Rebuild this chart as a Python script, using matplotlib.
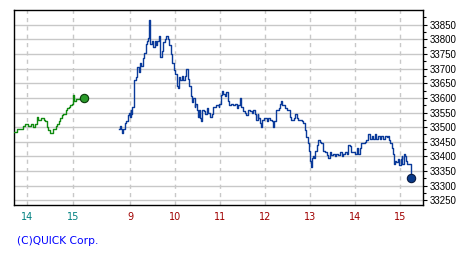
import numpy as np
import matplotlib
matplotlib.use('Agg')
import matplotlib.pyplot as plt
from matplotlib.ticker import MultipleLocator

# previous day session, minutes after 14:00
prev_min = [-17, -13, -8, -5, -2, 2, 5, 8, 11, 13, 15, 18, 22, 24, 26, 28, 30, 32,
            34, 37, 39, 41, 43, 45, 47, 50, 52, 54, 56, 58, 60, 61, 63, 66, 69, 73]
prev_val = [33485, 33495, 33495, 33505, 33510, 33505, 33510, 33500, 33510, 33535,
            33525, 33530, 33525, 33520, 33500, 33490, 33480, 33480, 33495, 33505,
            33510, 33520, 33530, 33540, 33545, 33560, 33565, 33570, 33575, 33580,
            33610, 33590, 33595, 33595, 33600, 33600]

# today's session, minutes after 9:00
today_min = [-14, -13, -12, -11, -9, -7, -5, -3, -1, 0, 1, 2, 3, 5, 6, 8, 10, 12, 14,
             15, 17, 19, 21, 23, 24, 25, 26, 27, 29, 31, 33, 34, 36, 38, 40, 42, 44,
             46, 48, 50, 52, 54, 56, 58, 60, 62, 64, 65, 67, 69, 71, 73, 74, 77, 79,
             81, 83, 84, 86, 87, 89, 91, 92, 93, 95, 96, 98, 100, 102, 104, 107, 109,
             111, 113, 115, 118, 119, 121, 122, 124, 126, 128, 130, 132, 134, 137,
             140, 142, 144, 146, 148, 150, 153, 155, 157, 160, 162, 164, 166, 168,
             170, 171, 173, 174, 176, 178, 180, 182, 184, 186, 189, 191, 192, 194,
             195, 198, 200, 201, 203, 206, 209, 211, 213, 215, 218, 220, 222, 224,
             226, 229, 231, 233, 235, 237, 239, 240, 241, 242, 244, 245, 246, 249,
             251, 253, 255, 257, 260, 262, 264, 266, 268, 271, 273, 275, 277, 280,
             282, 284, 286, 289, 291, 293, 295, 297, 300, 302, 304, 306, 308, 311,
             313, 315, 317, 320, 322, 324, 326, 328, 331, 333, 335, 337, 340, 342,
             344, 345, 347, 349, 350, 351, 352, 353, 355, 357, 359, 361, 362, 363,
             365, 366, 368, 369, 372, 375]
today_val = [33495, 33505, 33495, 33480, 33495, 33515, 33520, 33540, 33550, 33535,
             33560, 33545, 33570, 33595, 33660, 33670, 33705, 33690, 33720, 33710,
             33735, 33755, 33785, 33795, 33805, 33865, 33800, 33785, 33795, 33775,
             33795, 33780, 33795, 33810, 33740, 33760, 33790, 33800, 33810, 33800,
             33780, 33750, 33720, 33695, 33680, 33640, 33635, 33670, 33660, 33675,
             33660, 33675, 33700, 33665, 33640, 33605, 33585, 33600, 33570, 33580,
             33560, 33535, 33560, 33530, 33520, 33560, 33555, 33545, 33565, 33550,
             33535, 33545, 33570, 33570, 33575, 33570, 33580, 33610, 33625, 33615,
             33605, 33620, 33590, 33575, 33580, 33575, 33580, 33565, 33575, 33600,
             33570, 33555, 33550, 33540, 33560, 33555, 33550, 33560, 33545, 33525,
             33545, 33530, 33515, 33500, 33525, 33530, 33530, 33520, 33530, 33525,
             33520, 33500, 33520, 33530, 33560, 33565, 33580, 33590, 33575, 33565,
             33560, 33560, 33535, 33525, 33530, 33545, 33530, 33525, 33525, 33520,
             33515, 33490, 33465, 33445, 33420, 33385, 33365, 33395, 33400, 33395,
             33420, 33440, 33455, 33450, 33445, 33420, 33415, 33405, 33395, 33415,
             33405, 33410, 33400, 33410, 33405, 33415, 33400, 33410, 33415, 33410,
             33440, 33435, 33415, 33415, 33410, 33428, 33410, 33428, 33445, 33445,
             33450, 33455, 33475, 33460, 33470, 33460, 33475, 33460, 33470, 33460,
             33470, 33460, 33470, 33465, 33470, 33455, 33445, 33430, 33420, 33410,
             33375, 33385, 33380, 33390, 33370, 33390, 33400, 33375, 33410, 33400,
             33385, 33375, 33375, 33325]

prev_ticks = [14, 15]
today_ticks = [9, 10, 11, 12, 13, 14, 15]
y_ticks = list(range(33250, 33851, 50))

# previous day is squeezed into the space left of today's 9:00
PREV_START = 6.707
PREV_SCALE = 1.0366


def prev_pos(hours):
    return PREV_START + (np.asarray(hours, dtype=float) - 14) * PREV_SCALE


def main():
    fig = plt.figure(figsize=(4.75, 2.6), dpi=100)
    ax = fig.add_axes([0.0295, 0.2115, 0.8615, 0.7485])

    px = prev_pos(14 + np.array(prev_min) / 60.0)
    tx = 9 + np.array(today_min) / 60.0

    ax.plot(px, prev_val, color='#108a10', lw=1.0, drawstyle='steps-post', zorder=3)
    ax.plot(px[-1], prev_val[-1], 'o', ms=6, mfc='#2a9a2a', mec='#0a3a0a', mew=0.8, zorder=4)
    ax.plot(tx, today_val, color='#0a3a9a', lw=1.0, drawstyle='steps-post', zorder=3)
    ax.plot(tx[-1], today_val[-1], 'o', ms=6, mfc='#0a3a8a', mec='#0a1a40', mew=0.8, zorder=4)

    ax.set_xlim(6.425, 15.511)
    ax.set_ylim(33234, 33899)

    xt = list(prev_pos(prev_ticks)) + today_ticks
    ax.set_xticks(xt)
    ax.set_xticklabels([str(t) for t in prev_ticks + today_ticks], fontsize=7)
    for i, lab in enumerate(ax.get_xticklabels()):
        lab.set_color('#008080' if i < len(prev_ticks) else '#a00000')
    ax.tick_params(axis='x', length=0, pad=5)

    ax.yaxis.tick_right()
    ax.set_yticks(y_ticks)
    ax.set_yticklabels([str(v) for v in y_ticks], fontsize=7,
                       family=['Liberation Sans', 'DejaVu Sans'])
    ax.yaxis.set_minor_locator(MultipleLocator(25))
    ax.tick_params(axis='y', which='major', length=3, width=0.8, pad=2, colors='black')
    ax.tick_params(axis='y', which='minor', length=2, width=0.8)

    for v in y_ticks:
        ax.axhline(v, color='#c8c8c8', lw=1.0, zorder=1)
    for x in xt:
        ax.axvline(x, color='#c8c8c8', lw=1.0, ls=(0, (3, 3)), zorder=1)

    for s in ax.spines.values():
        s.set_color('black')
        s.set_linewidth(1.0)

    fig.text(17 / 475, 1 - 241 / 260, '(C)QUICK Corp.', color='#0000ff',
             fontsize=7.7, va='center', ha='left')

    fig.savefig('out.png', dpi=100)


if __name__ == '__main__':
    main()
